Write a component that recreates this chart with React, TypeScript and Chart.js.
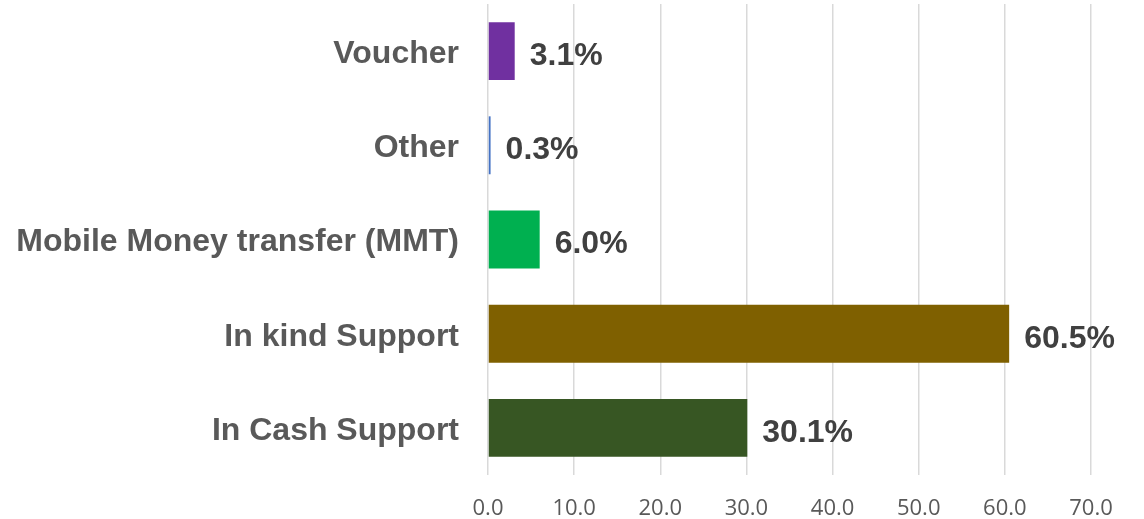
import React, { useEffect, useRef } from "react";
import { Chart, registerables } from "chart.js";

Chart.register(...registerables);

const categories = ["Voucher", "Other", "Mobile Money transfer (MMT)", "In kind Support", "In Cash Support"];
const values = [3.1, 0.3, 6.0, 60.5, 30.1];
const barColors = ["#7030A0", "#4472C4", "#00B050", "#7F6000", "#375623"];
const xTickMin = 0;
const xTickMax = 70;
const xTickStep = 10;

const dataLabelPlugin = {
  id: "dataLabels",
  afterDatasetsDraw(chart: any) {
    const ctx = chart.ctx;
    const meta = chart.getDatasetMeta(0);
    ctx.save();
    ctx.font = "bold 32px 'Liberation Sans', Arial, sans-serif";
    ctx.fillStyle = "#404040";
    ctx.textAlign = "left";
    ctx.textBaseline = "middle";
    meta.data.forEach((bar: any, i: number) => {
      const v = chart.data.datasets[0].data[i] as number;
      ctx.fillText(v.toFixed(1) + "%", bar.x + 15, bar.y + 5);
    });
    ctx.restore();
  },
};

export default function App() {
  const ref = useRef<HTMLCanvasElement>(null);
  useEffect(() => {
    if (!ref.current) return;
    const chart = new Chart(ref.current, {
      type: "bar",
      data: {
        labels: categories,
        datasets: [
          {
            data: values,
            backgroundColor: barColors,
            barPercentage: 0.615,
            categoryPercentage: 1,
          },
        ],
      },
      options: {
        indexAxis: "y",
        responsive: false,
        animation: false,
        layout: { padding: { left: 0, top: 4, right: 53, bottom: 0 } },
        plugins: {
          legend: { display: false },
          tooltip: { enabled: false },
        },
        scales: {
          x: {
            min: xTickMin,
            max: xTickMax,
            ticks: {
              stepSize: xTickStep,
              callback: (v: any) => Number(v).toFixed(1),
              font: { family: "'Open Sans', sans-serif", size: 22 },
              color: "#595959",
              padding: 21,
            },
            grid: { color: "#d9d9d9", lineWidth: 1.5, drawTicks: false },
            border: { display: false },
            afterFit: (s: any) => {
              s.height = 44;
              s.paddingLeft = 0;
              s.paddingRight = 0;
            },
          },
          y: {
            ticks: {
              font: { family: "'Liberation Sans', Arial, sans-serif", size: 32, weight: "bold" },
              color: "#595959",
              padding: 29,
              labelOffset: 3,
            },
            grid: { display: false, drawTicks: false },
            border: { display: false },
            afterFit: (s: any) => {
              s.width = 488;
              s.paddingTop = 0;
              s.paddingBottom = 0;
            },
          },
        },
      },
      plugins: [dataLabelPlugin],
    });
    return () => chart.destroy();
  }, []);
  return (
    <div style={{ position: "fixed", left: 0, top: 0, width: 1144, height: 519, background: "#fff" }}>
      <canvas ref={ref} width={1144} height={519} style={{ display: "block" }} />
    </div>
  );
}
